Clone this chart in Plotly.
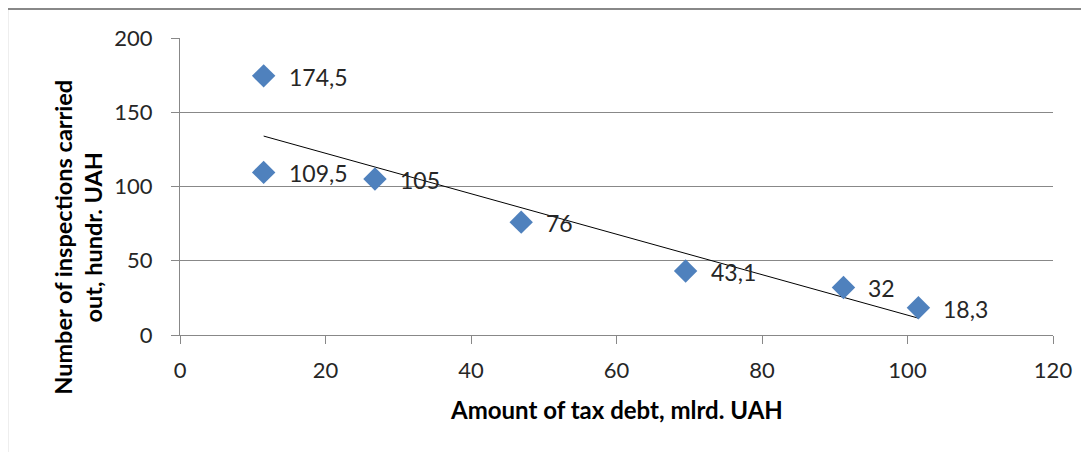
import numpy as np
import plotly.graph_objects as go

# Data
tax_debt = [11.5, 11.5, 26.8, 46.9, 69.5, 91.2, 101.5]
inspections = [174.5, 109.5, 105, 76, 43.1, 32, 18.3]
point_labels = ["174,5", "109,5", "105", "76", "43,1", "32", "18,3"]
x_ticks = [0, 20, 40, 60, 80, 100, 120]
y_ticks = [0, 50, 100, 150, 200]

FONT = "Lato"
GREY = "#888888"
TEXT = "#262626"

fig = go.Figure()

# linear trend (least squares from the data)
k, b = np.polyfit(tax_debt, inspections, 1)
xt = [min(tax_debt), max(tax_debt)]
fig.add_trace(go.Scatter(x=xt, y=[k * v + b for v in xt], mode="lines",
                         line=dict(color="#000000", width=1), hoverinfo="skip",
                         showlegend=False))

fig.add_trace(go.Scatter(x=tax_debt, y=inspections, mode="markers",
                         marker=dict(symbol="diamond", size=18, color="#4F81BD",
                                     line=dict(width=0)),
                         showlegend=False))

for xv, yv, lab in zip(tax_debt, inspections, point_labels):
    fig.add_annotation(x=xv, y=yv, text=lab, showarrow=False, xanchor="left",
                       yanchor="middle", xshift=23, yshift=-1,
                       font=dict(family=FONT, size=23, color=TEXT))

fig.update_layout(
    width=1081, height=444,
    margin=dict(l=172, r=36, t=30, b=117),
    paper_bgcolor="white", plot_bgcolor="white",
    font=dict(family=FONT, size=22, color=TEXT),
    xaxis=dict(range=[0, 120], tickvals=x_ticks, showgrid=False, zeroline=False,
               showline=True, linecolor=GREY, linewidth=1,
               ticks="outside", ticklen=8, tickcolor=GREY, tickwidth=1,
               ticklabelstandoff=8,
               tickfont=dict(family=FONT, size=22, color=TEXT)),
    yaxis=dict(range=[0, 200], tickvals=y_ticks, showgrid=True, gridcolor=GREY,
               gridwidth=1, zeroline=False, showline=True, linecolor=GREY,
               linewidth=1, ticks="outside", ticklen=8, tickcolor=GREY,
               tickwidth=1, ticklabelstandoff=14,
               tickfont=dict(family=FONT, size=22, color=TEXT)),
)

fig.add_annotation(xref="paper", yref="paper", x=0.5, y=-0.2525,
                   text="<b>Amount of tax debt, mlrd. UAH</b>", showarrow=False,
                   xanchor="center", yanchor="middle",
                   font=dict(family=FONT, size=24, color="#000000"))

fig.add_annotation(xref="paper", yref="paper", x=-0.116, y=0.33,
                   text="<b>Number of inspections carried<br>out, hundr. UAH</b>",
                   textangle=-90, showarrow=False, xanchor="center", yanchor="middle",
                   font=dict(family=FONT, size=23.5, color="#000000"))

# outer chart border
fig.add_shape(type="rect", xref="paper", yref="paper", x0=-0.198, x1=1.3,
              y0=-0.6, y1=1.0976, line=dict(color=GREY, width=2), layer="below")

fig.write_html("out.html")
